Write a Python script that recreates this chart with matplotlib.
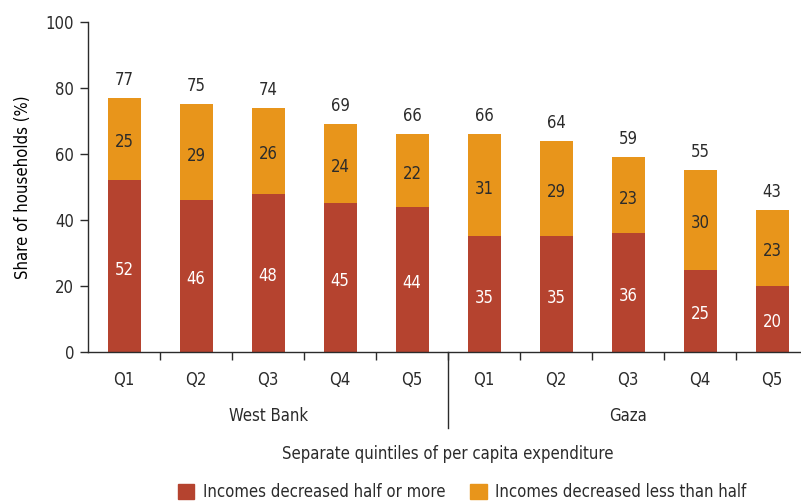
import matplotlib
matplotlib.use("Agg")
import matplotlib.pyplot as plt
from matplotlib import font_manager
from matplotlib.patches import Patch

# quintile labels and the two regions
quintiles = ["Q1", "Q2", "Q3", "Q4", "Q5"]
regions = ["West Bank", "Gaza"]

# share of households (%) per quintile, West Bank first then Gaza
decreased_half_or_more = [52, 46, 48, 45, 44, 35, 35, 36, 25, 20]
decreased_less_than_half = [25, 29, 26, 24, 22, 31, 29, 23, 30, 23]

red = "#b5432f"
orange = "#e8951b"
dark = "#2b2b2b"
fs = 12

# prefer a narrow face if one is installed
narrow = [f for f in font_manager.fontManager.ttflist
          if ("Narrow" in f.name or "Condensed" in f.name or f.stretch in ("condensed", "semi-condensed"))
          and f.weight in (400, "normal", "regular") and f.style == "normal"]
if narrow:
    prop = font_manager.FontProperties(fname=narrow[0].fname)
    plt.rcParams["font.family"] = [prop.get_name(), "DejaVu Sans"]
    plt.rcParams["font.stretch"] = narrow[0].stretch
else:
    plt.rcParams["font.family"] = ["DejaVu Sans"]
plt.rcParams["font.size"] = fs
plt.rcParams["text.color"] = dark
plt.rcParams["axes.edgecolor"] = dark
plt.rcParams["xtick.color"] = dark
plt.rcParams["ytick.color"] = dark

fig = plt.figure(figsize=(8.01, 5.01), dpi=100)
ax = fig.add_axes([0.11, 0.2974, 0.889, 0.6587])

n = len(decreased_half_or_more)
x = list(range(n))
totals = [a + b for a, b in zip(decreased_half_or_more, decreased_less_than_half)]

ax.bar(x, decreased_half_or_more, width=0.46, color=red, zorder=2)
ax.bar(x, decreased_less_than_half, width=0.46, bottom=decreased_half_or_more,
       color=orange, zorder=2)

for i in x:
    lo = decreased_half_or_more[i]
    hi = decreased_less_than_half[i]
    ax.text(i, lo / 2 - 1, f"{lo}", ha="center", va="center", color="white", fontsize=fs)
    ax.text(i, lo + hi / 2 - 1, f"{hi}", ha="center", va="center", color=dark, fontsize=fs)
    ax.text(i, totals[i] + 5.5, f"{totals[i]}", ha="center", va="center", color=dark, fontsize=fs)

ax.set_xlim(-0.5, n - 1 + 0.39)
ax.set_ylim(0, 100)
ax.set_yticks([0, 20, 40, 60, 80, 100])
ax.spines["top"].set_visible(False)
ax.spines["right"].set_visible(False)
ax.spines["left"].set_linewidth(1.0)
ax.spines["bottom"].set_linewidth(1.0)
ax.tick_params(axis="y", direction="out", length=6, width=1, pad=4, labelsize=fs)

# ticks sit between the bars, labels under each bar
ax.set_xticks([i + 0.5 for i in range(n - 1)])
ax.set_xticklabels([])
ax.tick_params(axis="x", direction="out", length=6, width=1)
for i in x:
    ax.text(i, -8.5, quintiles[i % 5], ha="center", va="center", fontsize=fs)

# separator between regions and region names
ax.plot([4.5, 4.5], [0, -23], color=dark, lw=1.0, clip_on=False)
ax.text(2, -19.5, regions[0], ha="center", va="center", fontsize=fs)
ax.text(7, -19.5, regions[1], ha="center", va="center", fontsize=fs)

ax.set_ylabel("Share of households (%)", fontsize=fs, labelpad=10)
fig.text(0.559, 0.094, "Separate quintiles of per capita expenditure",
         ha="center", va="center", fontsize=fs)

handles = [Patch(color=red, label="Incomes decreased half or more"),
           Patch(color=orange, label="Incomes decreased less than half")]
fig.legend(handles=handles, loc="center", bbox_to_anchor=(0.577, 0.018), ncol=2,
           frameon=False, fontsize=fs, handlelength=1.0, handleheight=1.0,
           handletextpad=0.5, columnspacing=1.5)

fig.savefig("out.png", dpi=100)
